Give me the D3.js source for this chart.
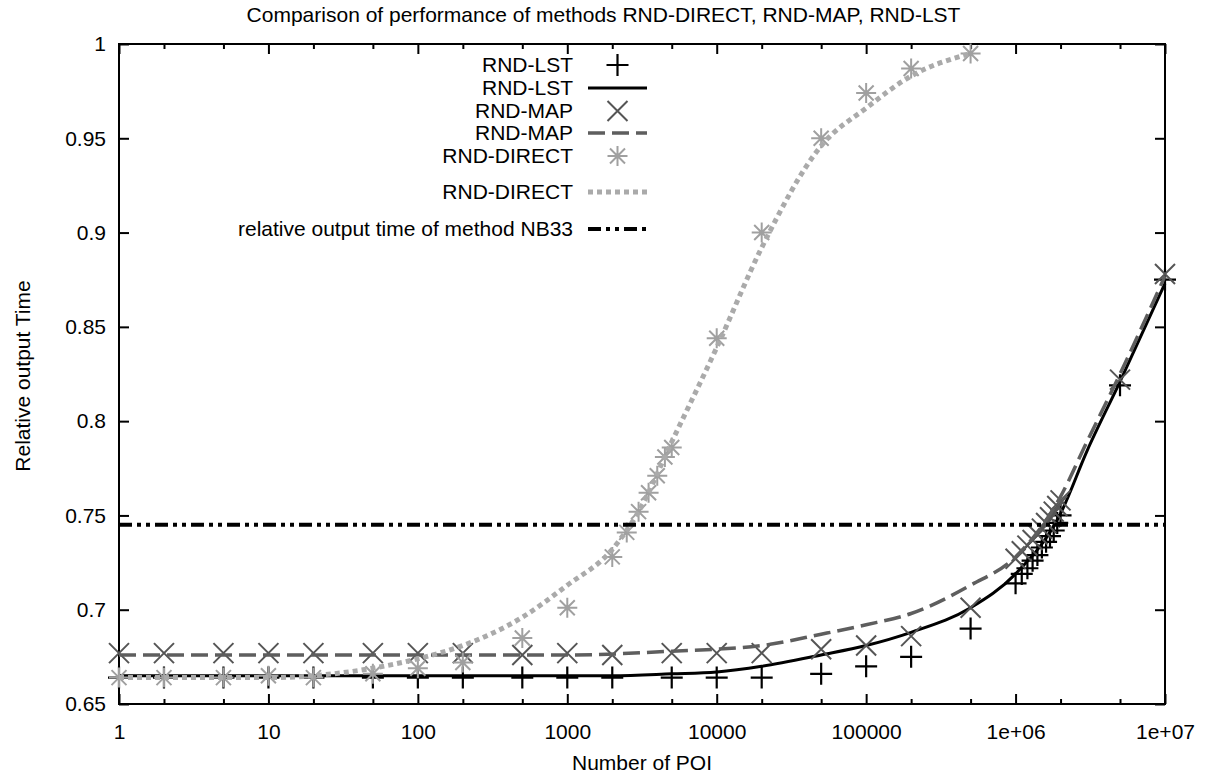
<!DOCTYPE html>
<html>
<head>
<meta charset="utf-8">
<script src="https://cdn.jsdelivr.net/npm/d3@7"></script>
<style>
  html, body { margin: 0; padding: 0; background: #fff; overflow: hidden; }
  svg { display: block; }
  svg text { font-family: "Liberation Sans", Arial, sans-serif; font-size: 21px; fill: #000; }
</style>
</head>
<body>
<svg id="chart" width="1207" height="781"></svg>
<script>
// tick values and labels
const xTicks = [1, 10, 100, 1000, 10000, 100000, 1000000, 10000000];
const xTickLabels = ['1', '10', '100', '1000', '10000', '100000', '1e+06', '1e+07'];
const xMinorTicks = [2, 5, 20, 50, 200, 500, 2000, 5000, 20000, 50000, 200000, 500000, 2000000, 5000000];
const yTicks = [0.65, 0.7, 0.75, 0.8, 0.85, 0.9, 0.95, 1];
const yTickLabels = ['0.65', '0.7', '0.75', '0.8', '0.85', '0.9', '0.95', '1'];

// measured points (RND-LST and RND-MAP share the same POI counts)
const poiCounts = [1, 2, 5, 10, 20, 50, 100, 200, 500, 1000, 2000, 5000, 10000, 20000, 50000,
  100000, 200000, 500000, 1000000, 1100000, 1200000, 1300000, 1400000, 1500000, 1600000,
  1700000, 1800000, 1900000, 2000000, 5000000, 10000000];
const lstPoints = [0.664, 0.664, 0.664, 0.664, 0.664, 0.664, 0.664, 0.664, 0.664, 0.664, 0.664,
  0.664, 0.664, 0.664, 0.666, 0.670, 0.675, 0.690, 0.714, 0.719, 0.722, 0.726, 0.729, 0.733,
  0.736, 0.739, 0.742, 0.746, 0.750, 0.819, 0.875];
const mapPoints = [0.677, 0.677, 0.677, 0.677, 0.677, 0.677, 0.677, 0.677, 0.676, 0.677, 0.676,
  0.677, 0.677, 0.677, 0.679, 0.681, 0.686, 0.701, 0.727, 0.731, 0.734, 0.737, 0.740, 0.743,
  0.746, 0.749, 0.752, 0.755, 0.758, 0.822, 0.878];

const directCounts = [1, 2, 5, 10, 20, 50, 100, 200, 500, 1000, 2000, 2500, 3000, 3500, 4000,
  4500, 5000, 10000, 20000, 50000, 100000, 200000, 500000];
const directPoints = [0.664, 0.664, 0.664, 0.665, 0.664, 0.666, 0.669, 0.672, 0.685, 0.701,
  0.728, 0.741, 0.752, 0.762, 0.771, 0.781, 0.786, 0.844, 0.900, 0.950, 0.974, 0.987, 0.995];

// fitted curves
const lstCurveX = [1, 10, 100, 1000, 2000, 5000, 10000, 20000, 50000, 100000, 200000, 500000,
  1000000, 2000000, 3000000, 5000000, 10000000];
const lstCurveY = [0.665, 0.665, 0.665, 0.665, 0.665, 0.666, 0.667, 0.670, 0.676, 0.681, 0.688,
  0.701, 0.719, 0.751, 0.784, 0.821, 0.873];
const mapCurveX = [1, 10, 100, 1000, 5000, 20000, 50000, 100000, 200000, 500000, 1000000,
  2000000, 3000000, 5000000, 10000000];
const mapCurveY = [0.676, 0.676, 0.676, 0.676, 0.678, 0.681, 0.687, 0.692, 0.698, 0.713, 0.728,
  0.760, 0.789, 0.825, 0.877];
const directCurveX = [1, 10, 20, 50, 100, 200, 500, 1000, 2000, 3000, 5000, 10000, 20000, 50000,
  100000, 200000, 500000];
const directCurveY = [0.664, 0.664, 0.665, 0.669, 0.674, 0.681, 0.696, 0.713, 0.732, 0.752,
  0.789, 0.839, 0.892, 0.946, 0.966, 0.983, 0.995];

const nb33Value = 0.745;

const svg = d3.select('#chart');
const margin = { top: 44, right: 42, bottom: 77, left: 119 };
const width = +svg.attr('width');
const height = +svg.attr('height');
const innerWidth = width - margin.left - margin.right;
const innerHeight = height - margin.top - margin.bottom;

const xScale = d3.scaleLog().domain([1, 1e7]).range([0, innerWidth]);
const yScale = d3.scaleLinear().domain([0.65, 1]).range([innerHeight, 0]);

const g = svg.append('g')
  .attr('transform', `translate(${margin.left},${margin.top})`);

// axes, ticks pointing inward
function styleAxis(sel) {
  sel.select('.domain').remove();
  sel.selectAll('line').attr('stroke', '#000').attr('stroke-width', 2);
  sel.selectAll('text').style('font-size', '21px').attr('fill', '#000');
}
// tick marks only, no labels
function bareAxis(sel) {
  styleAxis(sel);
  sel.selectAll('text').remove();
}

g.append('g')
  .attr('transform', `translate(0,${innerHeight})`)
  .call(d3.axisBottom(xScale).tickValues(xTicks).tickSize(-10).tickPadding(20)
    .tickFormat((d, i) => xTickLabels[i]))
  .call(styleAxis);
g.append('g')
  .attr('transform', `translate(0,${innerHeight})`)
  .call(d3.axisBottom(xScale).tickValues(xMinorTicks).tickSize(-5))
  .call(bareAxis);
g.append('g')
  .call(d3.axisTop(xScale).tickValues(xTicks).tickSize(-10))
  .call(bareAxis);
g.append('g')
  .call(d3.axisTop(xScale).tickValues(xMinorTicks).tickSize(-5))
  .call(bareAxis);
g.append('g')
  .call(d3.axisLeft(yScale).tickValues(yTicks).tickSize(-10).tickPadding(13)
    .tickFormat((d, i) => yTickLabels[i]))
  .call(styleAxis);
g.append('g')
  .attr('transform', `translate(${innerWidth},0)`)
  .call(d3.axisRight(yScale).tickValues(yTicks).tickSize(-10))
  .call(bareAxis);

g.append('rect')
  .attr('width', innerWidth)
  .attr('height', innerHeight)
  .attr('fill', 'none')
  .attr('stroke', '#000')
  .attr('stroke-width', 2);

// titles
svg.append('text')
  .attr('x', width / 2)
  .attr('y', 22)
  .attr('text-anchor', 'middle')
  .text('Comparison of performance of methods RND-DIRECT, RND-MAP, RND-LST');

svg.append('text')
  .attr('x', margin.left + innerWidth / 2)
  .attr('y', 770)
  .attr('text-anchor', 'middle')
  .text('Number of POI');

svg.append('text')
  .attr('transform', `translate(30,${margin.top + innerHeight / 2 + 2}) rotate(-90)`)
  .attr('text-anchor', 'middle')
  .text('Relative output Time');

// marker shapes
const plusPath = (x, y) => `M${x - 11},${y}h22M${x},${y - 11}v22`;
const crossPath = (x, y) => `M${x - 10},${y - 10}l20,20M${x - 10},${y + 10}l20,-20`;
const starPath = (x, y) => `M${x - 10},${y}h20M${x},${y - 10}v20M${x - 7.5},${y - 7.5}l15,15M${x - 7.5},${y + 7.5}l15,-15`;

const series = [
  { name: 'RND-LST', kind: 'points', xs: poiCounts, ys: lstPoints, shape: plusPath, color: '#000', width: 2.2 },
  { name: 'RND-LST', kind: 'line', xs: lstCurveX, ys: lstCurveY, color: '#000', width: 3, dash: null },
  { name: 'RND-MAP', kind: 'points', xs: poiCounts, ys: mapPoints, shape: crossPath, color: '#555', width: 2 },
  { name: 'RND-MAP', kind: 'line', xs: mapCurveX, ys: mapCurveY, color: '#5e5e5e', width: 3.5, dash: '17,7' },
  { name: 'RND-DIRECT', kind: 'points', xs: directCounts, ys: directPoints, shape: starPath, color: '#a0a0a0', width: 2 },
  { name: 'RND-DIRECT', kind: 'line', xs: directCurveX, ys: directCurveY, color: '#aaa', width: 5, dash: '5,4' }
];

const line = d3.line()
  .x(d => xScale(d[0]))
  .y(d => yScale(d[1]))
  .curve(d3.curveMonotoneX);

series.forEach(s => {
  const pts = s.xs.map((x, i) => [x, s.ys[i]]);
  if (s.kind === 'line') {
    g.append('path')
      .attr('d', line(pts))
      .attr('fill', 'none')
      .attr('stroke', s.color)
      .attr('stroke-width', s.width)
      .attr('stroke-dasharray', s.dash);
  } else {
    g.append('g').selectAll('path')
      .data(pts)
      .join('path')
      .attr('d', d => s.shape(xScale(d[0]), yScale(d[1])))
      .attr('fill', 'none')
      .attr('stroke', s.color)
      .attr('stroke-width', s.width);
  }
});

// NB33 reference line
g.append('line')
  .attr('x1', xScale(1))
  .attr('x2', xScale(1e7))
  .attr('y1', yScale(nb33Value))
  .attr('y2', yScale(nb33Value))
  .attr('stroke', '#000')
  .attr('stroke-width', 4)
  .attr('stroke-dasharray', '13,5,4,5,4,5');

// legend
const legendEntries = [
  { label: 'RND-LST', ref: 0, row: 65 },
  { label: 'RND-LST', ref: 1, row: 88 },
  { label: 'RND-MAP', ref: 2, row: 111 },
  { label: 'RND-MAP', ref: 3, row: 133 },
  { label: 'RND-DIRECT', ref: 4, row: 156 },
  { label: 'RND-DIRECT', ref: 5, row: 192 },
  { label: 'relative output time of method NB33', ref: 6, row: 229 }
];
const legend = svg.append('g');
const sampleX0 = 588;
const sampleX1 = 647;

legendEntries.forEach(e => {
  legend.append('text')
    .attr('x', 573)
    .attr('y', e.row)
    .attr('dy', '0.35em')
    .attr('text-anchor', 'end')
    .text(e.label);
  if (e.ref === 6) {
    legend.append('line')
      .attr('x1', sampleX0).attr('x2', sampleX1)
      .attr('y1', e.row).attr('y2', e.row)
      .attr('stroke', '#000').attr('stroke-width', 4)
      .attr('stroke-dasharray', '13,5,4,5,4,5');
    return;
  }
  const s = series[e.ref];
  if (s.kind === 'line') {
    legend.append('line')
      .attr('x1', sampleX0).attr('x2', sampleX1)
      .attr('y1', e.row).attr('y2', e.row)
      .attr('stroke', s.color).attr('stroke-width', s.width)
      .attr('stroke-dasharray', s.dash);
  } else {
    legend.append('path')
      .attr('d', s.shape((sampleX0 + sampleX1) / 2, e.row))
      .attr('fill', 'none')
      .attr('stroke', s.color)
      .attr('stroke-width', s.width);
  }
});
</script>
</body>
</html>
